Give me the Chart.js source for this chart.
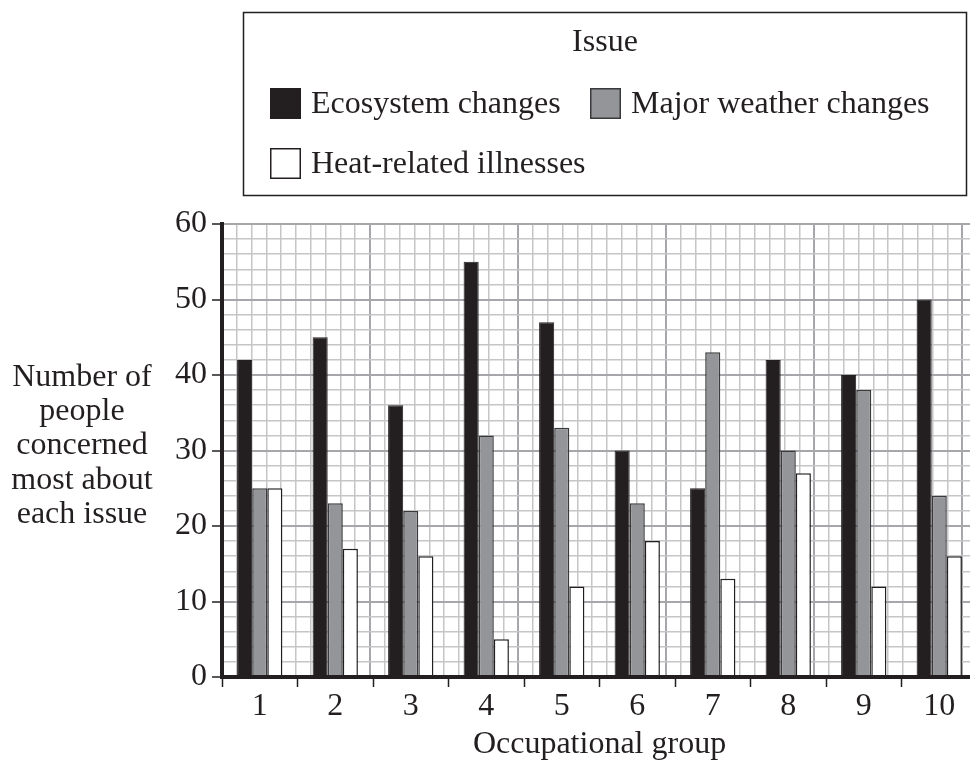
<!DOCTYPE html>
<html>
<head>
<meta charset="utf-8">
<script src="https://cdn.jsdelivr.net/npm/chart.js@4"></script>
<style>
html,body{margin:0;padding:0;background:#fff;overflow:hidden;}
#wrap{position:relative;width:980px;height:761px;}
</style>
</head>
<body>
<div id="wrap"><canvas id="c" width="980" height="761"></canvas></div>
<script>
const categories = ['1','2','3','4','5','6','7','8','9','10'];
const ecosystem = [42,45,36,55,47,30,25,42,40,50];
const weather = [25,23,22,32,33,23,43,30,38,24];
const heat = [25,17,16,5,12,18,13,27,12,16];
const seriesNames = ['Ecosystem changes','Major weather changes','Heat-related illnesses'];
const legendTitle = 'Issue';
const yTitleLines = ['Number of','people','concerned','most about','each issue'];
const xTitle = 'Occupational group';

const FONT = '"Liberation Serif","Times New Roman",serif';
const INK = '#231f20';
const MAJOR = '#a7a7ab';
const MINOR = '#c6c6c8';

const textPlugin = {
  id:'textPlugin',
  afterDraw(chart){
    const ctx = chart.ctx;
    const ca = chart.chartArea;
    ctx.save();
    ctx.fillStyle = INK;
    ctx.font = '32px ' + FONT;
    ctx.textBaseline = 'alphabetic';
    // legend box
    const L = 243.5, T = 12.5, R = 966.5, B = 195.5;
    ctx.strokeStyle = INK;
    ctx.lineWidth = 1.5;
    ctx.strokeRect(L, T, R-L, B-T);
    ctx.textAlign = 'center';
    ctx.fillText(legendTitle, (L+R)/2, 51);
    ctx.textAlign = 'left';
    const spots = [[270,88],[590,88],[270,148]];
    chart.data.datasets.forEach((ds,i)=>{
      const [bx,by] = spots[i];
      ctx.fillStyle = ds.backgroundColor;
      ctx.fillRect(bx,by,31,31);
      ctx.strokeStyle = ds.borderColor; ctx.lineWidth = 1.5;
      ctx.strokeRect(bx+0.75,by+0.75,29.5,29.5);
      ctx.fillStyle = INK;
      ctx.fillText(ds.label, bx+41, by+25);
    });
    // y title
    ctx.textAlign = 'center';
    const yb = [386, 420, 454, 489, 523];
    yTitleLines.forEach((t,i)=>ctx.fillText(t, 82, yb[i]));
    // x title
    ctx.fillText(xTitle, (ca.left+ca.right)/2, 753);
    ctx.restore();
  }
};

new Chart(document.getElementById('c'), {
  type:'bar',
  data:{
    labels: categories,
    datasets:[
      {label:seriesNames[0], data:ecosystem, backgroundColor:INK, borderColor:INK, borderWidth:1},
      {label:seriesNames[1], data:weather, backgroundColor:'#939598', borderColor:'#3a3a3c', borderWidth:1.5},
      {label:seriesNames[2], data:heat, backgroundColor:'#ffffff', borderColor:INK, borderWidth:1.5}
    ]
  },
  options:{
    responsive:false,
    animation:false,
    devicePixelRatio:1,
    layout:{padding:{top:224,right:3,left:0,bottom:0}},
    plugins:{legend:{display:false}, tooltip:{enabled:false}, title:{display:false}},
    datasets:{bar:{categoryPercentage:0.6, barPercentage:1.0, borderSkipped:'bottom'}},
    scales:{
      x:{
        type:'category', position:'bottom', offset:true,
        grid:{drawOnChartArea:false, drawTicks:true, tickLength:10, tickColor:INK, tickWidth:1.5, offset:true},
        border:{color:INK, width:4, z:1},
        ticks:{font:{family:FONT,size:32}, color:INK, padding:0, maxRotation:0},
        afterFit(s){ s.height = 84; }
      },
      x2:{
        type:'linear', position:'top', min:0, max:50,
        ticks:{display:false, stepSize:1},
        grid:{drawTicks:false,
          color:c=> (c.tick && c.tick.value%10===0) ? MAJOR : MINOR,
          lineWidth:c=> (c.tick && c.tick.value%10===0) ? 2 : 1.5},
        border:{display:false},
        afterFit(s){ s.height = 0; }
      },
      y:{
        min:0, max:60,
        ticks:{stepSize:2, autoSkip:false, font:{family:FONT,size:32}, color:INK, padding:5,
          callback:v=> v%10===0 ? String(v) : ''},
        grid:{
          color:c=> (c.tick && c.tick.value%10===0) ? MAJOR : MINOR,
          lineWidth:c=> (c.tick && c.tick.value%10===0) ? 2 : 1.5,
          tickColor:c=> (c.tick && c.tick.value%10===0) ? INK : 'rgba(0,0,0,0)',
          tickLength:10, tickWidth:1.5
        },
        border:{color:INK, width:4, z:1},
        afterFit(s){ s.width = 222; }
      }
    }
  },
  plugins:[textPlugin]
});
</script>
</body>
</html>
